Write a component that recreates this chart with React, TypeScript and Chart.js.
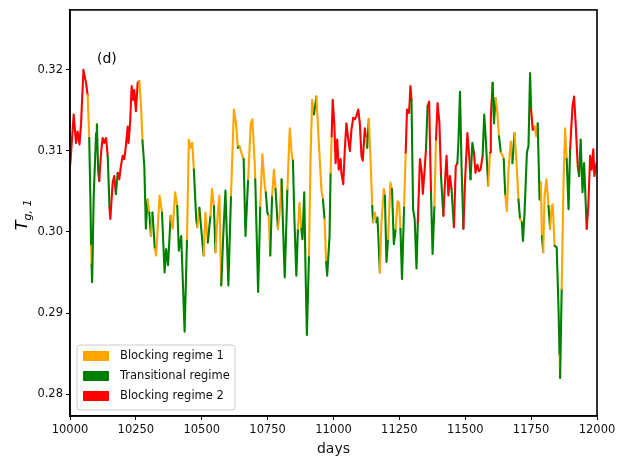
import React, { useEffect, useRef } from "react";
import { Chart, registerables } from "chart.js";
Chart.register(...registerables);

// regime: 0 = Blocking regime 1, 1 = Transitional regime, 2 = Blocking regime 2
const days = [
  10001, 10014, 10023, 10029, 10036, 10042, 10051, 10061, 10067, 10073, 10078, 10080, 10082, 10084, 10090, 10099, 10102, 10107, 10111, 10118,
  10124, 10130, 10137, 10143, 10150, 10153, 10162, 10168, 10174, 10181, 10187, 10193, 10200, 10206, 10212, 10219, 10222, 10228, 10234, 10240,
  10244, 10250, 10257, 10263, 10269, 10275, 10282, 10288, 10294, 10301, 10307, 10313, 10322, 10327, 10340, 10349, 10359, 10365, 10372, 10382,
  10390, 10399, 10407, 10413, 10422, 10435, 10444, 10451, 10457, 10464, 10470, 10479, 10483, 10491, 10498, 10507, 10514, 10523, 10533, 10539,
  10546, 10552, 10561, 10567, 10574, 10582, 10590, 10601, 10611, 10622, 10630, 10637, 10643, 10652, 10659, 10666, 10676, 10686, 10692, 10701,
  10703, 10714, 10722, 10730, 10739, 10743, 10749, 10754, 10760, 10767, 10774, 10780, 10789, 10796, 10803, 10812, 10815, 10825, 10834, 10842,
  10846, 10852, 10859, 10865, 10871, 10878, 10882, 10889, 10894, 10899, 10907, 10913, 10919, 10926, 10935, 10943, 10954, 10960, 10966, 10972,
  10976, 10985, 10989, 10993, 10997, 11003, 11008, 11014, 11020, 11027, 11030, 11037, 11043, 11049, 11056, 11062, 11068, 11075, 11081, 11087,
  11094, 11100, 11106, 11111, 11119, 11123, 11128, 11134, 11140, 11147, 11150, 11157, 11163, 11167, 11176, 11182, 11191, 11195, 11201, 11207,
  11216, 11222, 11229, 11236, 11243, 11249, 11254, 11260, 11268, 11274, 11279, 11287, 11292, 11296, 11302, 11308, 11315, 11320, 11328, 11335,
  11339, 11345, 11351, 11357, 11363, 11370, 11376, 11383, 11389, 11395, 11402, 11408, 11417, 11423, 11429, 11436, 11442, 11448, 11457, 11464,
  11470, 11474, 11480, 11486, 11493, 11499, 11508, 11515, 11520, 11527, 11533, 11539, 11546, 11552, 11558, 11566, 11572, 11578, 11587, 11594,
  11597, 11604, 11609, 11615, 11621, 11628, 11635, 11642, 11646, 11652, 11658, 11664, 11673, 11679, 11687, 11693, 11702, 11708, 11715, 11719,
  11725, 11734, 11740, 11743, 11746, 11750, 11756, 11763, 11769, 11775, 11782, 11787, 11791, 11796, 11801, 11808, 11816, 11822, 11828, 11832,
  11839, 11847, 11854, 11858, 11860, 11866, 11873, 11879, 11885, 11892, 11898, 11907, 11913, 11919, 11927, 11932, 11938, 11945, 11951, 11955,
  11961, 11967, 11974, 11980, 11986, 11990, 11998,
];

const tg1 = [
  0.3083, 0.3145, 0.3110, 0.3124, 0.3108, 0.3134, 0.3200, 0.3184, 0.3169, 0.3116, 0.3030, 0.2983, 0.2960, 0.2938, 0.3045, 0.3122, 0.3133, 0.3075, 0.3063, 0.3098,
  0.3116, 0.3110, 0.3116, 0.3094, 0.3030, 0.3016, 0.3061, 0.3069, 0.3047, 0.3073, 0.3065, 0.3081, 0.3094, 0.3090, 0.3106, 0.3130, 0.3110, 0.3134, 0.3180, 0.3163,
  0.3175, 0.3149, 0.3184, 0.3186, 0.3159, 0.3113, 0.3081, 0.3004, 0.3040, 0.3024, 0.2995, 0.3024, 0.2979, 0.2971, 0.3045, 0.3024, 0.2950, 0.2979, 0.2959, 0.3020,
  0.3004, 0.3049, 0.3032, 0.2977, 0.2995, 0.2877, 0.2991, 0.3114, 0.3104, 0.3110, 0.3077, 0.3016, 0.3006, 0.3030, 0.3004, 0.2971, 0.3024, 0.2987, 0.3020, 0.3053,
  0.3032, 0.2975, 0.3024, 0.3045, 0.2934, 0.2999, 0.3051, 0.2934, 0.3045, 0.3151, 0.3134, 0.3104, 0.3106, 0.3096, 0.3090, 0.2995, 0.3065, 0.3134, 0.3139, 0.3085,
  0.3065, 0.2926, 0.3032, 0.3096, 0.3057, 0.3049, 0.3024, 0.3020, 0.2971, 0.3045, 0.3077, 0.3053, 0.3004, 0.3024, 0.3065, 0.2971, 0.2944, 0.3053, 0.3128, 0.3094,
  0.3088, 0.3012, 0.2946, 0.3004, 0.3036, 0.3004, 0.2991, 0.3049, 0.2950, 0.2873, 0.2971, 0.3094, 0.3163, 0.3145, 0.3167, 0.3118, 0.3053, 0.3040, 0.3016, 0.2963,
  0.2946, 0.2995, 0.3073, 0.3118, 0.3163, 0.3134, 0.3085, 0.3114, 0.3077, 0.3090, 0.3073, 0.3059, 0.3102, 0.3134, 0.3114, 0.3100, 0.3126, 0.3141, 0.3139, 0.3143,
  0.3151, 0.3134, 0.3094, 0.3088, 0.3128, 0.3116, 0.3104, 0.3139, 0.3094, 0.3032, 0.3012, 0.3024, 0.3012, 0.3018, 0.2950, 0.3012, 0.3053, 0.3045, 0.2963, 0.2991,
  0.3061, 0.3053, 0.2985, 0.3004, 0.3038, 0.3036, 0.3004, 0.2942, 0.3032, 0.3098, 0.3151, 0.3147, 0.3180, 0.3163, 0.3028, 0.3016, 0.2955, 0.3012, 0.3090, 0.3073,
  0.3047, 0.3073, 0.3102, 0.3155, 0.3161, 0.3049, 0.2973, 0.3032, 0.3114, 0.3159, 0.3134, 0.3069, 0.3020, 0.3061, 0.3094, 0.3045, 0.3069, 0.3053, 0.3006, 0.3081,
  0.3085, 0.3110, 0.3173, 0.3081, 0.3004, 0.3061, 0.3122, 0.3094, 0.3065, 0.3110, 0.3098, 0.3073, 0.3083, 0.3075, 0.3077, 0.3094, 0.3145, 0.3114, 0.3057, 0.3098,
  0.3141, 0.3184, 0.3134, 0.3165, 0.3151, 0.3118, 0.3098, 0.3094, 0.3090, 0.3045, 0.3026, 0.3077, 0.3112, 0.3085, 0.3122, 0.3094, 0.3040, 0.3016, 0.3012, 0.2989,
  0.3024, 0.3098, 0.3106, 0.3151, 0.3196, 0.3151, 0.3126, 0.3130, 0.3118, 0.3134, 0.3040, 0.3061, 0.2995, 0.2975, 0.3045, 0.3065, 0.3032, 0.3004, 0.3032, 0.3034,
  0.2983, 0.2981, 0.2905, 0.2848, 0.2820, 0.2930, 0.3061, 0.3128, 0.3090, 0.3028, 0.3102, 0.3155, 0.3167, 0.3134, 0.3081, 0.3069, 0.3114, 0.3049, 0.3085, 0.3053,
  0.3004, 0.3032, 0.3094, 0.3077, 0.3102, 0.3069, 0.3085,
];

const regime = [
  2, 2, 2, 2, 2, 2, 2, 2, 0, 1, 1, 0, 1, 1, 1, 1, 1, 1, 2, 2,
  2, 2, 2, 1, 2, 2, 2, 2, 1, 2, 2, 2, 2, 2, 2, 2, 2, 2, 2, 2,
  2, 2, 2, 0, 0, 1, 1, 1, 0, 1, 0, 1, 0, 0, 0, 1, 1, 1, 1, 0,
  0, 0, 1, 1, 1, 1, 0, 0, 0, 0, 1, 1, 0, 1, 1, 0, 0, 1, 0, 0,
  1, 0, 0, 0, 1, 1, 1, 1, 0, 0, 0, 1, 0, 0, 1, 1, 0, 0, 0, 0,
  1, 1, 0, 0, 0, 1, 1, 0, 1, 0, 0, 1, 0, 0, 1, 1, 1, 0, 0, 0,
  1, 1, 1, 0, 0, 1, 1, 1, 1, 1, 0, 0, 0, 1, 0, 0, 0, 1, 0, 1,
  1, 1, 0, 2, 2, 2, 2, 2, 2, 2, 2, 2, 2, 2, 2, 2, 2, 2, 2, 2,
  2, 2, 2, 2, 2, 0, 1, 0, 0, 1, 0, 0, 1, 1, 0, 0, 0, 1, 1, 0,
  0, 1, 1, 0, 0, 0, 1, 1, 0, 2, 2, 2, 2, 1, 1, 1, 1, 2, 2, 2,
  2, 2, 1, 2, 2, 1, 1, 0, 2, 2, 2, 1, 2, 2, 2, 2, 2, 1, 2, 2,
  1, 1, 1, 1, 2, 2, 2, 2, 1, 1, 2, 2, 2, 2, 2, 1, 1, 1, 0, 2,
  2, 1, 1, 0, 0, 1, 0, 0, 1, 0, 0, 0, 0, 1, 0, 0, 1, 0, 1, 1,
  1, 1, 1, 1, 1, 2, 2, 0, 0, 1, 1, 0, 1, 0, 0, 0, 1, 0, 0, 0,
  1, 1, 1, 0, 1, 0, 0, 0, 1, 1, 2, 2, 2, 2, 2, 1, 1, 1, 1, 1,
  2, 2, 2, 2, 2, 2, 2,
];

const regimeNames = ["Blocking regime 1", "Transitional regime", "Blocking regime 2"];
const regimeColors = ["#FFA500", "#008000", "#FF0000"];
const xTicks = [10000, 10250, 10500, 10750, 11000, 11250, 11500, 11750, 12000];
const yTicks = [0.28, 0.29, 0.3, 0.31, 0.32];
const panelLabel = "(d)";
const xTitle = "days";

const FONT = '"DejaVu Sans", sans-serif';

const decor = {
  id: "decor",
  afterDraw(chart: any) {
    const { ctx, chartArea: a } = chart;
    ctx.save();
    // frame
    ctx.strokeStyle = "#000";
    ctx.lineWidth = 1.6;
    ctx.strokeRect(a.left, a.top, a.right - a.left, a.bottom - a.top);
    // panel label
    ctx.fillStyle = "#000";
    ctx.font = `14px ${FONT}`;
    ctx.textAlign = "left";
    ctx.textBaseline = "middle";
    ctx.fillText(panelLabel, a.left + 27, a.top + 49);
    // legend
    const lx = a.left + 7, ly = a.bottom - 71, lw = 158, lh = 65;
    ctx.beginPath();
    if (ctx.roundRect) ctx.roundRect(lx, ly, lw, lh, 3); else ctx.rect(lx, ly, lw, lh);
    ctx.fillStyle = "rgba(255,255,255,0.85)";
    ctx.fill();
    ctx.strokeStyle = "#cccccc";
    ctx.lineWidth = 1;
    ctx.stroke();
    ctx.font = `11.5px ${FONT}`;
    regimeNames.forEach((name, i) => {
      const cy = ly + 11 + i * 20;
      ctx.fillStyle = regimeColors[i];
      ctx.fillRect(lx + 6, cy - 5, 26, 10);
      ctx.fillStyle = "#111";
      ctx.textBaseline = "middle";
      ctx.fillText(name, lx + 43, cy + 0.5);
    });
    // y title T_{g,1}
    ctx.translate(21, 215);
    ctx.rotate(-Math.PI / 2);
    ctx.textBaseline = "alphabetic";
    ctx.fillStyle = "#000";
    ctx.font = `italic 16px ${FONT}`;
    const wT = ctx.measureText("T").width;
    ctx.font = `italic 11px ${FONT}`;
    const wS = ctx.measureText("g, 1").width;
    const x0 = -(wT + wS) / 2;
    ctx.font = `italic 16px ${FONT}`;
    ctx.fillText("T", x0, 6);
    ctx.font = `italic 11px ${FONT}`;
    ctx.fillText("g, 1", x0 + wT, 9.5);
    ctx.restore();
  },
};

export default function App() {
  const ref = useRef<HTMLCanvasElement>(null);
  useEffect(() => {
    const points = days.map((d, i) => ({ x: d, y: tg1[i] }));
    const chart = new Chart(ref.current as HTMLCanvasElement, {
      type: "line",
      data: {
        datasets: [
          {
            data: points,
            borderWidth: 2.1,
            borderJoinStyle: "round",
            borderCapStyle: "round",
            pointRadius: 0,
            tension: 0,
            fill: false,
            borderColor: regimeColors[1],
            segment: {
              borderColor: (c: any) => regimeColors[regime[c.p0DataIndex]],
            },
          } as any,
        ],
      },
      options: {
        animation: false,
        responsive: true,
        maintainAspectRatio: false,
        layout: { padding: { left: 0, right: 28, top: 8, bottom: 0 } },
        plugins: { legend: { display: false }, tooltip: { enabled: false } },
        scales: {
          x: {
            type: "linear",
            min: 10000,
            max: 12000,
            afterBuildTicks: (s: any) => {
              s.ticks = xTicks.map((v) => ({ value: v }));
            },
            afterFit: (s: any) => {
              s.height = 46;
            },
            ticks: {
              color: "#111",
              font: { family: FONT, size: 11.5 },
              padding: 3,
              maxRotation: 0,
              autoSkip: false,
              callback: (v: any) => String(v),
            },
            grid: { display: true, drawOnChartArea: false, drawTicks: true, tickLength: 4, color: "#000" },
            border: { display: true, color: "#000", width: 1.6 },
            title: {
              display: true,
              text: xTitle,
              color: "#111",
              font: { family: FONT, size: 14 },
              padding: { top: 2, bottom: 4 },
            },
          },
          y: {
            type: "linear",
            min: 0.2773,
            max: 0.3274,
            afterBuildTicks: (s: any) => {
              s.ticks = yTicks.map((v) => ({ value: v }));
            },
            afterFit: (s: any) => {
              s.width = 70;
            },
            ticks: {
              color: "#111",
              font: { family: FONT, size: 11.5 },
              padding: 3,
              autoSkip: false,
              callback: (v: any) => Number(v).toFixed(2),
            },
            grid: { display: true, drawOnChartArea: false, drawTicks: true, tickLength: 4, color: "#000" },
            border: { display: true, color: "#000", width: 1.6 },
          },
        },
      } as any,
      plugins: [decor],
    });
    return () => chart.destroy();
  }, []);
  return (
    <div style={{ position: "absolute", left: 0, top: 0, width: 625, height: 462, background: "#fff" }}>
      <canvas ref={ref} />
    </div>
  );
}
